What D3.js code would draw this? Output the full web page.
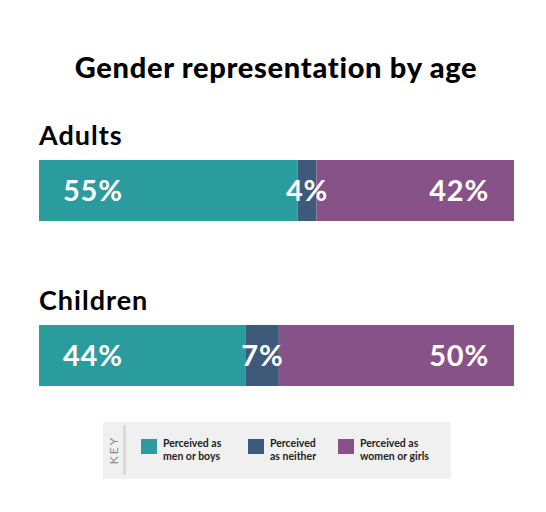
<!DOCTYPE html>
<html>
<head>
<meta charset="utf-8">
<script src="https://cdn.jsdelivr.net/npm/d3@7"></script>
<style>
  body { margin: 0; background: #fff; }
  text { font-family: Lato, "Open Sans", sans-serif; }
</style>
</head>
<body>
<div id="viz"></div>
<script>
const groups = ['Adults', 'Children'];
const series = ['men', 'neither', 'women'];
const adults = [55, 4, 42];
const children = [44, 7, 50];
const keyLabels = [
  ['Perceived as', 'men or boys'],
  ['Perceived', 'as neither'],
  ['Perceived as', 'women or girls'],
];

const colours = {
  men: '#2a9c9e',
  neither: '#3d5a7a',
  women: '#875288',
};

const width = 546;
const height = 512;

const svg = d3.select('#viz')
  .append('svg')
  .attr('width', width)
  .attr('height', height);

svg.append('text')
  .attr('x', width / 2 + 3)
  .attr('y', 78)
  .attr('text-anchor', 'middle')
  .style('font-size', '29px')
  .style('font-weight', 900)
  .style('letter-spacing', '0.7px')
  .text('Gender representation by age');

const rows = groups.map((g, i) => {
  const vals = i === 0 ? adults : children;
  const stacked = d3.stack().keys(series)([Object.fromEntries(series.map((s, j) => [s, vals[j]]))]);
  return { group: g, total: d3.sum(vals), parts: stacked.map(s => ({ key: s.key, x0: s[0][0], x1: s[0][1], value: s[0].data[s.key] })) };
});

const x = d3.scaleLinear().range([39, 514]);
const y = d3.scaleBand()
  .domain(groups)
  .range([160, 386])
  .paddingInner(0.63);

const row = svg.selectAll('g.row')
  .data(rows)
  .enter()
  .append('g')
  .attr('class', 'row');

row.append('text')
  .attr('x', 39)
  .attr('y', d => y(d.group) - 15)
  .style('font-size', '27px')
  .style('font-weight', 700)
  .style('letter-spacing', '1px')
  .text(d => d.group);

row.each(function (d) {
  x.domain([0, d.total]);
  const g = d3.select(this);
  const mid = y(d.group) + y.bandwidth() / 2;

  g.selectAll('rect')
    .data(d.parts)
    .enter()
    .append('rect')
    .attr('x', p => x(p.x0))
    .attr('y', y(d.group))
    .attr('width', p => x(p.x1) - x(p.x0))
    .attr('height', y.bandwidth())
    .attr('fill', p => colours[p.key]);

  g.selectAll('text.val')
    .data(d.parts)
    .enter()
    .append('text')
    .attr('class', 'val')
    .attr('x', (p, i) => {
      if (i === 0) return x(p.x0) + 24;
      if (i === 2) return x(p.x1) - 25;
      return (x(p.x0) + x(p.x1)) / 2;
    })
    .attr('y', mid + 10.5)
    .attr('text-anchor', (p, i) => ['start', 'middle', 'end'][i])
    .style('font-size', '29px')
    .style('font-weight', 700)
    .style('letter-spacing', '0.8px')
    .style('fill', '#fff')
    .text(p => `${p.value}%`);
});

// key box
const key = svg.append('g');
key.append('rect')
  .attr('x', 103)
  .attr('y', 422)
  .attr('width', 348)
  .attr('height', 57)
  .attr('fill', '#f0f0f0');

key.append('line')
  .attr('x1', 124.5).attr('x2', 124.5)
  .attr('y1', 425).attr('y2', 475)
  .attr('stroke', '#cfcfcf')
  .attr('stroke-width', 2);

key.append('text')
  .attr('transform', 'translate(118, 450) rotate(-90)')
  .attr('text-anchor', 'middle')
  .style('font-size', '12px')
  .style('letter-spacing', '2px')
  .style('fill', '#8a8a8a')
  .text('KEY');

const keyX = [141, 248, 338];
const item = key.selectAll('g.item')
  .data(series)
  .enter()
  .append('g')
  .attr('class', 'item')
  .attr('transform', (s, i) => `translate(${keyX[i]}, 439)`);

item.append('rect')
  .attr('width', 16)
  .attr('height', 15)
  .attr('fill', s => colours[s]);

item.append('text')
  .attr('x', 22)
  .attr('y', 8)
  .style('font-size', '10.5px')
  .style('font-weight', 700)
  .style('fill', '#222')
  .selectAll('tspan')
  .data((s, i) => keyLabels[i])
  .enter()
  .append('tspan')
  .attr('x', 22)
  .attr('dy', (l, j) => (j === 0 ? 0 : 13))
  .text(l => l);
</script>
</body>
</html>
